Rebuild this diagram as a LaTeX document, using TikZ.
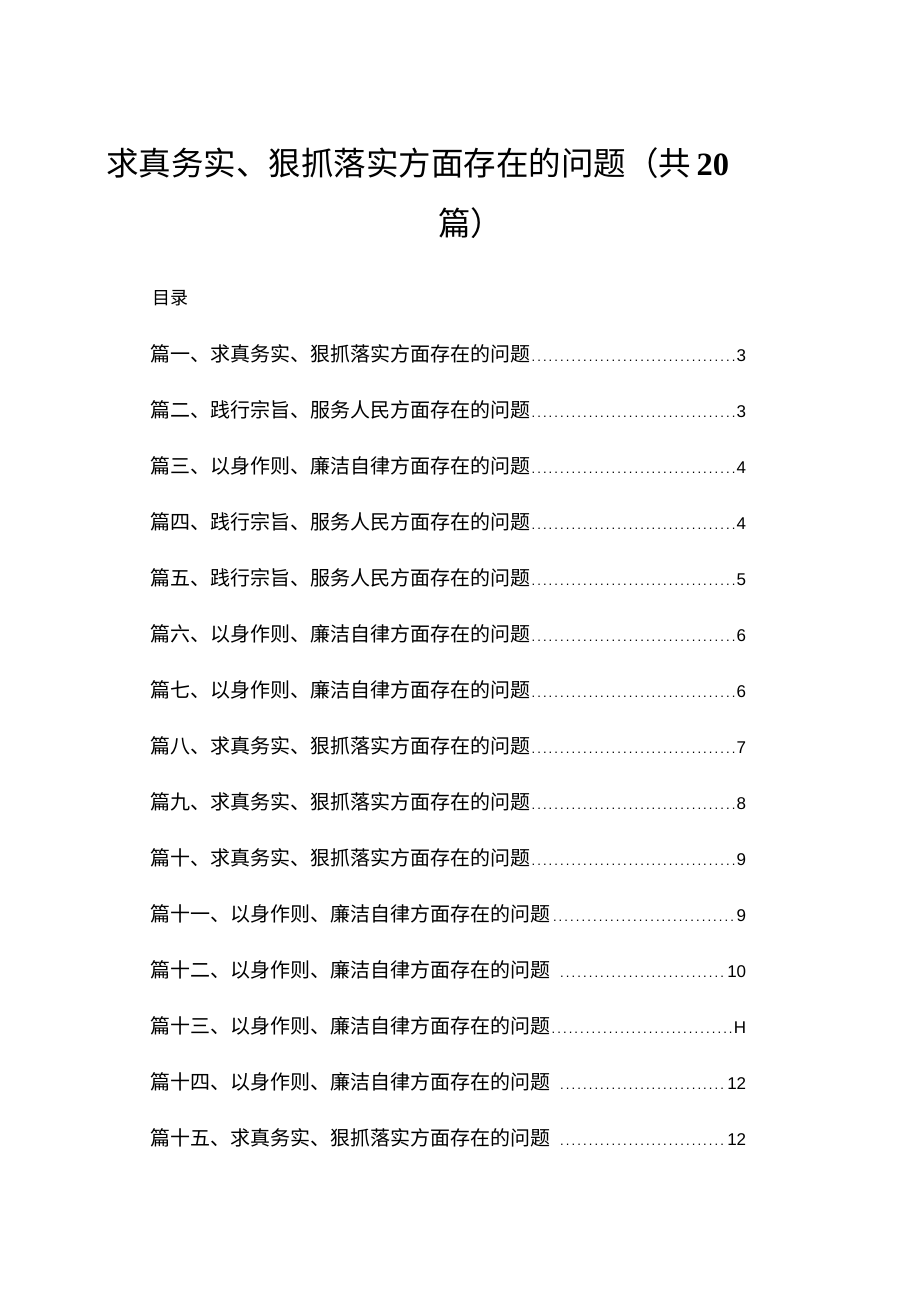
\documentclass[tikz,border=0pt]{standalone}
\usepackage{fontspec}
\setmainfont{Liberation Sans}
\newfontfamily\cjk{Noto Sans CJK SC}
\newfontfamily\numserif{Liberation Serif}
\begin{document}
\begin{tikzpicture}[x=1pt,y=-1pt,
  entry/.style={anchor=west,inner sep=0pt,text width=596pt,font=\fontsize{20}{22}\selectfont}]
\useasboundingbox (0,0) rectangle (920,1301);
\node[anchor=west,inner sep=0pt,font=\fontsize{32.5}{34}\selectfont] (t1) at (106,163) {\cjk 求真务实、狠抓落实方面存在的问题（共\,{\numserif\bfseries 20}};
\node[anchor=west,inner sep=0pt,font=\fontsize{32.5}{34}\selectfont] (t2) at (438,223) {\cjk 篇）};
\node[anchor=west,inner sep=0pt,font=\fontsize{18}{20}\selectfont] (ml) at (152,298) {\cjk 目录};
\foreach \i/\t/\p in {
0/篇一、求真务实、狠抓落实方面存在的问题/3,
1/篇二、践行宗旨、服务人民方面存在的问题/3,
2/篇三、以身作则、廉洁自律方面存在的问题/4,
3/篇四、践行宗旨、服务人民方面存在的问题/4,
4/篇五、践行宗旨、服务人民方面存在的问题/5,
5/篇六、以身作则、廉洁自律方面存在的问题/6,
6/篇七、以身作则、廉洁自律方面存在的问题/6,
7/篇八、求真务实、狠抓落实方面存在的问题/7,
8/篇九、求真务实、狠抓落实方面存在的问题/8,
9/篇十、求真务实、狠抓落实方面存在的问题/9,
10/篇十一、以身作则、廉洁自律方面存在的问题/9,
11/篇十二、以身作则、廉洁自律方面存在的问题\ /10,
12/篇十三、以身作则、廉洁自律方面存在的问题/H,
13/篇十四、以身作则、廉洁自律方面存在的问题\ /12,
14/篇十五、求真务实、狠抓落实方面存在的问题\ /12}
  \node[entry] (e\i) at (150,{354+56*\i}) {{\cjk \t}{\fontsize{13}{14}\selectfont\dotfill}\fontsize{17}{18}\selectfont\p};
\end{tikzpicture}
\end{document}
